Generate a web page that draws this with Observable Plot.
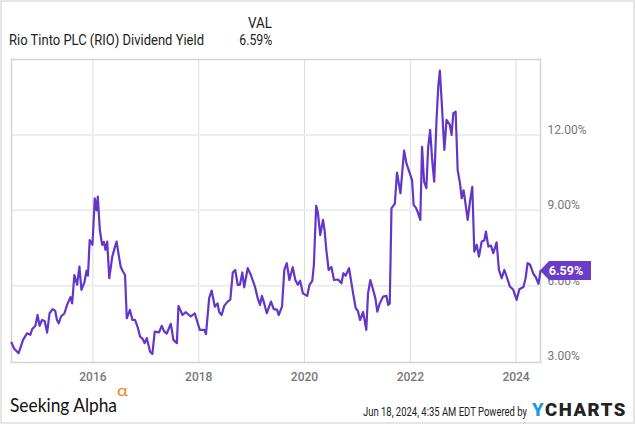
<!DOCTYPE html>
<html>
<head>
<meta charset="utf-8">
<script src="https://cdn.jsdelivr.net/npm/d3@7"></script>
<script src="https://cdn.jsdelivr.net/npm/@observablehq/plot@0.6"></script>
<style>
  html, body { margin: 0; padding: 0; background: #fff; }
  #wrap { position: relative; width: 635px; height: 424px; overflow: hidden; background: #fff; font-family: Roboto, sans-serif; }
  #border { position: absolute; left: 0; top: 0; width: 635px; height: 424px; box-sizing: border-box; border: 2px solid #e6e6e6; pointer-events: none; z-index: 5; }
  #chart { position: absolute; left: 0; top: 0; }
  .t { position: absolute; white-space: nowrap; line-height: 1; }
</style>
</head>
<body>
<div id="wrap">
  <div id="chart"></div>
  <div class="t fit" id="legend" data-w="195" data-anchor="left" style="left:9px; top:32.5px; font-size:15px; color:#222;">Rio Tinto PLC (RIO) Dividend Yield</div>
  <div class="t fit" id="valHead" data-w="24" data-anchor="right" style="left:200px; top:15.5px; font-size:15px; color:#222;">VAL</div>
  <div class="t fit" id="valNum" data-w="33" data-anchor="right" style="left:200px; top:32.5px; font-size:15px; color:#222;">6.59%</div>
  <div class="t fit" id="sa" data-w="107" data-anchor="left" style="left:10px; top:394px; font-size:20px; font-family:Lato, sans-serif; color:#111;">Seeking Alpha</div>
  <div class="t fit" id="alpha" data-w="11" data-anchor="left" style="left:117px; top:382px; font-size:16px; font-family:Lato, sans-serif; color:#f5821f;">α</div>
  <div class="t fit" id="stamp" data-w="164" data-anchor="left" style="left:363px; top:405px; font-size:13px; color:#222;">Jun 18, 2024, 4:35 AM EDT Powered by</div>
  <div class="t fit" id="ych" data-w="95" data-anchor="left" style="left:532px; top:401px; font-size:18px; font-weight:900; letter-spacing:1.5px; color:#222;"><span style="color:#1e9bd7">Y</span>CHARTS</div>
  <div id="border"></div>
</div>
<script>
// ---- data ----
const dates = [
  "2014-06-18","2014-07-07","2014-08-06","2014-09-06","2014-10-03","2014-10-26","2014-11-07","2014-11-30","2014-12-15","2014-12-29",
  "2015-01-15","2015-02-02","2015-02-19","2015-03-08","2015-03-29","2015-04-16","2015-04-28","2015-05-10","2015-05-26","2015-06-18",
  "2015-07-07","2015-07-30","2015-08-11","2015-08-26","2015-09-14","2015-09-30","2015-10-14","2015-11-04","2015-11-18","2015-11-28",
  "2015-12-10","2015-12-29","2016-01-14","2016-01-26","2016-02-04","2016-02-18","2016-03-05","2016-03-16","2016-03-28","2016-04-09",
  "2016-04-23","2016-05-14","2016-05-30","2016-06-13","2016-06-29","2016-07-11","2016-07-24","2016-08-10","2016-08-22","2016-09-13",
  "2016-09-30","2016-10-18","2016-11-04","2016-11-22","2016-12-08","2016-12-24","2017-01-07","2017-01-30","2017-02-15","2017-03-03",
  "2017-04-02","2017-04-20","2017-05-06","2017-05-25","2017-06-22","2017-07-10","2017-08-03","2017-08-14","2017-09-11","2017-10-04",
  "2017-11-07","2017-12-05","2018-01-08","2018-02-08","2018-02-20","2018-03-14","2018-03-31","2018-04-22","2018-05-11","2018-05-22",
  "2018-06-08","2018-06-26","2018-07-19","2018-08-07","2018-08-24","2018-09-10","2018-09-27","2018-10-13","2018-10-29","2018-11-11",
  "2018-12-05","2018-12-27","2019-01-24","2019-02-12","2019-02-28","2019-03-13","2019-03-29","2019-04-16","2019-05-15","2019-06-03",
  "2019-06-25","2019-07-07","2019-07-30","2019-08-15","2019-09-01","2019-09-19","2019-10-12","2019-10-30","2019-11-16","2019-12-02",
  "2019-12-21","2020-01-20","2020-02-05","2020-02-24","2020-03-06","2020-03-22","2020-04-03","2020-04-19","2020-05-08","2020-05-19",
  "2020-05-31","2020-06-16","2020-07-05","2020-07-23","2020-08-20","2020-09-12","2020-09-26","2020-10-11","2020-11-04","2020-12-02",
  "2020-12-20","2021-01-04","2021-01-19","2021-02-09","2021-03-03","2021-03-15","2021-03-31","2021-04-18","2021-05-05","2021-05-18",
  "2021-06-04","2021-06-27","2021-07-20","2021-08-01","2021-08-12","2021-08-24","2021-09-16","2021-10-01","2021-10-25","2021-11-19",
  "2021-12-05","2021-12-28","2022-01-13","2022-01-24","2022-02-09","2022-02-24","2022-03-11","2022-03-23","2022-04-06","2022-04-22",
  "2022-05-04","2022-05-18","2022-06-01","2022-06-15","2022-07-01","2022-07-13","2022-07-24","2022-08-05","2022-08-24","2022-09-08",
  "2022-10-01","2022-10-13","2022-10-25","2022-11-10","2022-11-24","2022-12-10","2022-12-22","2023-01-04","2023-01-20","2023-02-01",
  "2023-02-17","2023-03-05","2023-03-19","2023-04-04","2023-04-20","2023-05-09","2023-05-27","2023-06-07","2023-06-24","2023-07-12",
  "2023-07-28","2023-08-20","2023-09-05","2023-09-24","2023-10-12","2023-10-28","2023-11-20","2023-12-13","2024-01-05","2024-01-24",
  "2024-02-21","2024-03-07","2024-03-21","2024-04-06","2024-04-30","2024-05-16","2024-06-04","2024-06-13","2024-06-18"
];
const yields = [
  3.74,3.50,3.32,3.85,4.11,4.05,4.27,4.41,4.84,4.41,
  4.64,4.60,4.14,4.91,5.07,5.00,4.64,4.51,4.78,4.90,
  5.24,5.55,5.30,6.43,6.04,6.76,5.84,6.15,6.60,6.40,
  7.82,7.63,9.48,9.00,9.55,8.22,7.63,7.75,7.43,7.76,
  6.30,7.16,7.50,7.76,7.16,6.76,6.60,6.43,4.71,5.04,
  4.64,4.65,4.38,3.98,3.90,3.72,3.92,3.38,3.29,4.18,
  4.15,4.41,4.20,4.10,4.49,3.85,3.72,5.20,4.84,4.95,
  4.78,4.90,4.25,4.25,4.08,5.51,5.81,5.17,5.30,4.96,
  4.84,5.20,5.37,5.45,6.53,6.63,6.04,6.05,6.53,5.94,
  6.70,6.43,5.97,5.51,5.24,5.60,5.30,4.91,5.37,5.07,
  5.05,4.84,5.17,6.63,6.90,6.23,6.74,6.23,6.04,6.20,
  5.70,5.60,6.04,6.20,6.83,9.18,8.90,8.02,8.62,8.20,
  7.43,6.63,6.75,6.23,6.25,6.10,6.50,6.40,6.70,5.70,
  5.11,5.00,4.64,4.96,4.25,5.70,6.23,5.86,5.50,4.97,
  5.30,5.57,5.60,5.24,5.30,9.09,9.26,10.50,9.68,11.38,
  10.87,10.48,10.20,9.22,9.10,8.89,8.62,11.53,10.14,9.88,
  11.50,12.20,11.00,10.14,12.60,13.92,14.56,13.39,11.40,12.60,
  12.40,12.00,12.86,12.93,10.60,10.08,9.48,9.80,9.15,8.62,
  9.35,9.94,7.36,7.63,7.16,7.76,7.80,8.16,7.56,7.60,
  7.30,7.73,6.63,6.30,6.63,6.37,5.97,5.84,5.44,5.86,
  5.95,6.30,6.90,6.85,6.47,6.35,6.08,6.40,6.59
];
const yTicks = [3, 6, 9, 12];
const yGridValues = [6, 9, 12];
const xTickYears = [2016, 2018, 2020, 2022, 2024];
const xStart = "2014-06-18";
const xEnd = "2024-06-18";
const lastValueLabel = "6.59%";

const data = dates.map((d, i) => ({date: new Date(d), value: yields[i]}));
const xTicks = xTickYears.map(y => new Date(Date.UTC(y, 0, 1)));
const lineColor = "#6236c9";

const plot = Plot.plot({
  width: 635,
  height: 424,
  marginTop: 59,
  marginBottom: 62,
  marginLeft: 11,
  marginRight: 95,
  style: {fontFamily: "Roboto, sans-serif", fontSize: "12px", background: "transparent", color: "#777"},
  x: {type: "utc", domain: [new Date(xStart), new Date(xEnd)], label: null},
  y: {domain: [2.95, 15.0], label: null},
  marks: [
    Plot.gridX(xTicks, {stroke: "#dcdcdc", strokeOpacity: 1, strokeWidth: 1}),
    Plot.ruleY(yGridValues, {stroke: "#ececec", strokeWidth: 2}),
    Plot.frame({stroke: "#d4d4d4", strokeWidth: 1.5}),
    Plot.axisX(xTicks, {tickSize: 0, tickPadding: 9.5, tickFormat: d => String(d.getUTCFullYear()), fill: "#777", fontWeight: 500, label: null}),
    Plot.axisY(yTicks, {anchor: "right", tickSize: 0, tickPadding: 7, dy: -5, tickFormat: d => d.toFixed(2) + "%", fill: "#777", label: null}),
    Plot.lineY(data, {x: "date", y: "value", stroke: lineColor, strokeWidth: 2.2, strokeLinejoin: "round"})
  ]
});
document.getElementById("chart").appendChild(plot);

// value badge on right axis, positioned through the plot's scales
const ys = plot.scale("y");
const xs = plot.scale("x");
const lastVal = yields[yields.length - 1];
const bx = xs.range[1];
const by = ys.apply(lastVal);
const svg = d3.select(plot);
const g = svg.append("g");
g.append("path")
  .attr("d", `M${bx},${by} L${bx + 9},${by - 9.5} H${bx + 51} V${by + 9.5} H${bx + 9} Z`)
  .attr("fill", "#6a3cc9");
g.append("text")
  .attr("x", bx + 26)
  .attr("y", by)
  .attr("dy", "0.36em")
  .attr("text-anchor", "middle")
  .attr("fill", "#fff")
  .attr("font-family", "Roboto, sans-serif")
  .attr("font-weight", "bold")
  .attr("font-size", 12.5)
  .text(lastValueLabel);

// fit condensed header/footer texts to measured widths
document.querySelectorAll(".fit").forEach(el => {
  const target = +el.dataset.w;
  const w = el.getBoundingClientRect().width;
  const s = target / w;
  if (el.dataset.anchor === "right") {
    const rightX = 272;
    el.style.left = (rightX - w) + "px";
    el.style.transformOrigin = "right center";
  } else {
    el.style.transformOrigin = "left center";
  }
  el.style.transform = `scaleX(${s})`;
});
</script>
</body>
</html>
